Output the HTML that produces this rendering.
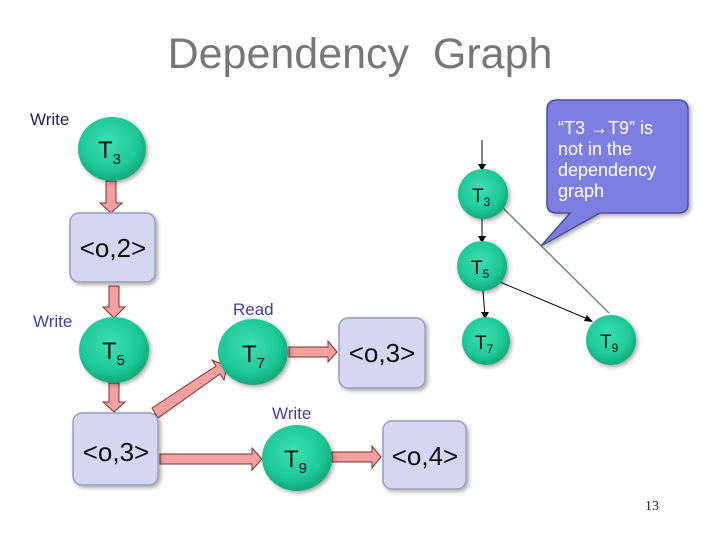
<!DOCTYPE html>
<html><head><meta charset="utf-8"><style>
html,body{margin:0;padding:0;background:#fff;}
svg{display:block;}
</style></head><body>
<svg width="720" height="540" viewBox="0 0 720 540" xmlns="http://www.w3.org/2000/svg">
<defs>
<radialGradient id="g" cx="45%" cy="40%" r="60%">
<stop offset="0" stop-color="#3ee0b0"/><stop offset="0.7" stop-color="#1fc896"/><stop offset="1" stop-color="#12a87a"/>
</radialGradient>
<filter id="sh" x="-20%" y="-20%" width="150%" height="150%"><feDropShadow dx="2" dy="2" stdDeviation="2" flood-color="#000" flood-opacity="0.35"/></filter>
</defs>
<text x="360" y="68" text-anchor="middle" font-family="Liberation Sans, sans-serif" font-size="43" fill="#777">Dependency&#160; Graph</text>

<g font-family="Liberation Sans, sans-serif">
<!-- pink arrows -->
<g fill="#f4a0a0" stroke="#7a3030" stroke-width="1">
<polygon points="106,181 116,181 116,203 122,203 111,213 100,203 106,203"/>
<polygon points="109,286 119,286 119,307 125,307 114,318 103,307 109,307"/>
<polygon points="109,383 119,383 119,402 125,402 114,412 103,402 109,402"/>
<polygon points="152,408 216,366 212,360 227,366 224,380 220,374 158,418"/>
<polygon points="289,347 328,347 328,341 337,352 328,362 328,357 289,357"/>
<polygon points="160,454 252,454 252,448 262,459 252,470 252,464 160,464"/>
<polygon points="332,452 372,452 372,446 381,457 372,468 372,462 332,462"/>
</g>
<!-- boxes -->
<g fill="#d4d6f2" stroke="#9a9cc0" stroke-width="1.5" filter="url(#sh)">
<rect x="70" y="213" width="85" height="69" rx="9"/>
<rect x="73" y="413" width="85" height="72" rx="9"/>
<rect x="339" y="318" width="86" height="70" rx="9"/>
<rect x="383" y="421" width="83" height="68" rx="9"/>
</g>
<g font-size="26" fill="#111" text-anchor="middle">
<text x="113" y="257">&lt;o,2&gt;</text>
<text x="116" y="461">&lt;o,3&gt;</text>
<text x="382" y="362">&lt;o,3&gt;</text>
<text x="425" y="465">&lt;o,4&gt;</text>
</g>
<!-- circles -->
<g fill="url(#g)" filter="url(#sh)">
<ellipse cx="112" cy="149" rx="34" ry="32"/>
<ellipse cx="114" cy="350" rx="35" ry="33"/>
<ellipse cx="253" cy="352" rx="35" ry="33"/>
<ellipse cx="297" cy="458" rx="35" ry="33"/>
</g>
<g font-size="24" fill="#111">
<text x="98" y="158">T<tspan font-size="15" dy="6">3</tspan></text>
<text x="102" y="359">T<tspan font-size="15" dy="6">5</tspan></text>
<text x="242" y="362">T<tspan font-size="15" dy="6">7</tspan></text>
<text x="284" y="467">T<tspan font-size="15" dy="6">9</tspan></text>
</g>
<g font-size="17" fill="#2a2a80">
<text x="30" y="125" fill="#222260">Write</text>
<text x="33" y="327" fill="#4040a0">Write</text>
<text x="233" y="315" fill="#4040a0">Read</text>
<text x="272" y="419" fill="#4040a0">Write</text>
</g>

<!-- right graph -->
<g stroke="#000" stroke-width="1" fill="none">
<line x1="482" y1="140" x2="482" y2="168"/>
<line x1="482" y1="218" x2="482" y2="240"/>
<line x1="483" y1="291" x2="485" y2="316"/>
<line x1="500" y1="282" x2="590" y2="320"/>
</g>
<line x1="500" y1="205" x2="609" y2="313" stroke="#708878" stroke-width="1.5"/>
<g fill="#000">
<polygon points="478,164 482,171 486,164"/>
<polygon points="478,236 482,243 486,236"/>
<polygon points="481,312 485,319 489,312"/>
<polygon points="584,321 593,322 587,315"/>
</g>
<g fill="url(#g)" filter="url(#sh)">
<circle cx="483" cy="194" r="25"/>
<circle cx="482" cy="266" r="25"/>
<circle cx="486" cy="341" r="24"/>
<circle cx="611" cy="340" r="25"/>
</g>
<g font-size="19" fill="#111">
<text x="472" y="202">T<tspan font-size="12" dy="4">3</tspan></text>
<text x="471" y="274">T<tspan font-size="12" dy="4">5</tspan></text>
<text x="475" y="349">T<tspan font-size="12" dy="4">7</tspan></text>
<text x="600" y="348">T<tspan font-size="12" dy="4">9</tspan></text>
</g>
<!-- callout -->
<path d="M557,100 H678 Q688,100 688,110 V204 Q688,213 678,213 H600 L541,246 L570,213 H557 Q547,213 547,204 V110 Q547,100 557,100 Z" fill="#7b7fe0" stroke="#4a4ea0" stroke-width="1.5" filter="url(#sh)"/>
<g font-size="18" fill="#fff">
<text x="558" y="134">“T3 →T9” is</text>
<text x="558" y="155">not in the</text>
<text x="558" y="176">dependency</text>
<text x="558" y="197">graph</text>
</g>
</g>
<text x="652" y="510" text-anchor="middle" font-family="Liberation Serif, serif" font-size="14" fill="#222">13</text>
</svg>
</body></html>
